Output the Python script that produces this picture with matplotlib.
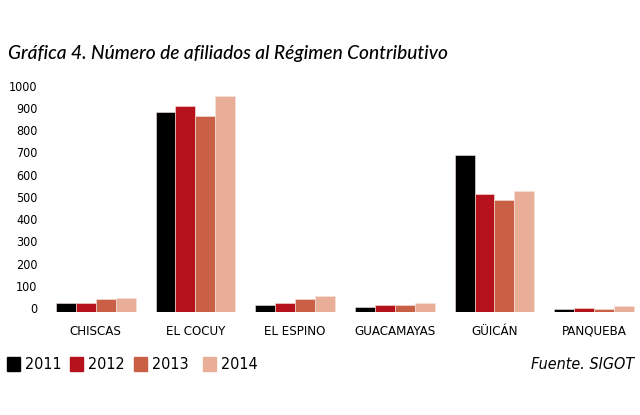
import matplotlib
matplotlib.use("Agg")
import matplotlib.pyplot as plt
from matplotlib import font_manager as fm
from matplotlib.patches import Rectangle
import matplotlib.transforms as mtransforms
import numpy as np

names = sorted({f.name for f in fm.fontManager.ttflist})
has_narrow = "Liberation Sans Narrow" in names
NARROW = dict(family="Liberation Sans Narrow") if has_narrow else dict(family="DejaVu Sans", stretch="condensed")

categories = ["CHISCAS", "EL COCUY", "EL ESPINO", "GUACAMAYAS", "GÜICÁN", "PANQUEBA"]
years = ["2011", "2012", "2013", "2014"]
v2011 = [39, 901, 33, 21, 705, 12]
v2012 = [39, 925, 42, 33, 529, 18]
v2013 = [57, 880, 60, 33, 505, 12]
v2014 = [63, 970, 73, 42, 546, 27]
yticks = [0, 100, 200, 300, 400, 500, 600, 700, 800, 900, 1000]
colors = ["#000000", "#b5121b", "#c95f45", "#e8ae97"]
series = [v2011, v2012, v2013, v2014]

W, H = 640, 415
fig = plt.figure(figsize=(6.4, 4.15), dpi=100)
y0, y1000 = 312.0, 89.7
ax = fig.add_axes([45.85 / W, (H - y0) / H, (640 - 45.85) / W, (y0 - y1000) / H])
ax.set_ylim(0, 1000)
ax.set_xlim(-0.5, 5.46)

x = np.arange(len(categories))
bw = 0.2
for i, (vals, c) in enumerate(zip(series, colors)):
    ax.bar(x + (i - 1.5) * bw, vals, width=bw, color=c, edgecolor="#f4e4de", linewidth=0.4)

for s in ax.spines.values():
    s.set_visible(False)
ax.set_yticks(yticks)
ax.set_yticklabels([str(t) for t in yticks], fontsize=9, **NARROW)
ax.tick_params(axis="y", length=0, pad=6)
off = mtransforms.ScaledTranslation(0, 4 / 100, fig.dpi_scale_trans)
for lab in ax.get_yticklabels():
    lab.set_transform(lab.get_transform() + off)
ax.set_xticks(x)
ax.set_xticklabels(categories, fontsize=9.5, **NARROW)
ax.tick_params(axis="x", length=0, pad=9)

fig.text(8 / W, 1 - 53 / H, "Gráfica 4. Número de afiliados al Régimen Contributivo",
         fontsize=13.8, style="italic", family="Lato", weight="medium", va="center", ha="left")

sq_x = [7, 70, 134, 203]
for xs, yr, c in zip(sq_x, years, colors):
    fig.patches.append(Rectangle((xs / W, 1 - 371 / H), 13 / W, 14 / H,
                                 transform=fig.transFigure, color=c))
    fig.text((xs + 18) / W, 1 - 364 / H, yr, fontsize=11.5, va="center", ha="left", **NARROW)

fig.text(634 / W, 1 - 364 / H, "Fuente. SIGOT", fontsize=11.5, style="italic",
         va="center", ha="right", **NARROW)

fig.savefig("out.png", dpi=100)
